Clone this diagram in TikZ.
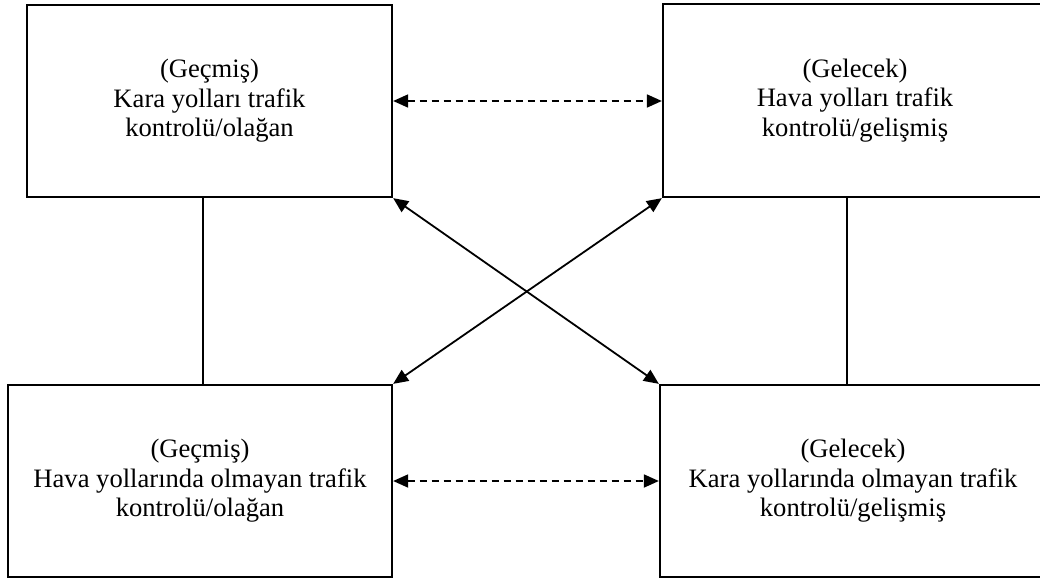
\documentclass[tikz,border=0pt]{standalone}
\usepackage{fontspec}
\setmainfont{Liberation Serif}
\usetikzlibrary{arrows.meta}
\begin{document}
\begin{tikzpicture}[x=1pt,y=-1pt,
  box/.style={draw=black, line width=2.3pt, rectangle, inner sep=0pt, align=center,
    font=\fontsize{26.6}{29.5}\selectfont},
  link/.style={line width=1.8pt, {Triangle[length=15pt,width=13pt]}-{Triangle[length=15pt,width=13pt]}},
  dlink/.style={link, dash pattern=on 7pt off 5pt},
  plain/.style={line width=2.3pt}]
\useasboundingbox (0,0) rectangle (1040,578);
\clip (0,0) rectangle (1040,578);

% four quadrant boxes
\node[box, minimum width=365pt, minimum height=192pt] (tl) at (209.5,101)
  {(Geçmiş)\\Kara yolları trafik\\kontrolü/olağan};
\node[box, minimum width=384pt, minimum height=193pt] (tr) at (855,100.5)
  {(Gelecek)\\Hava yolları trafik\\kontrolü/gelişmiş};
\node[box, minimum width=384pt, minimum height=192pt] (bl) at (200,481)
  {(Geçmiş)\\Hava yollarında olmayan trafik\\kontrolü/olağan};
\node[box, minimum width=386pt, minimum height=192pt] (br) at (853,481)
  {(Gelecek)\\Kara yollarında olmayan trafik\\kontrolü/gelişmiş};

% horizontal dashed links
\draw[dlink] (tl.east) -- (tl.east -| tr.west);
\draw[dlink] (bl.east) -- (bl.east -| br.west);

% crossing diagonals
\draw[link] (tl.south east) -- (br.north west);
\draw[link] (bl.north east) -- (tr.south west);

% vertical connectors
\coordinate (lx) at (203,0);
\coordinate (rx) at (847,0);
\draw[plain] (tl.south -| lx) -- (bl.north -| lx);
\draw[plain] (tr.south -| rx) -- (br.north -| rx);
\end{tikzpicture}
\end{document}
